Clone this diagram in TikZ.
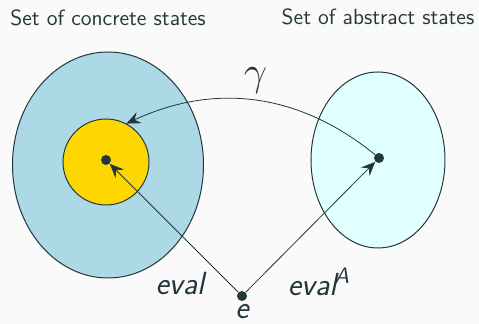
\documentclass[tikz,border=0pt]{standalone}
\usepackage{amsmath}
\usepackage{tikz}
\usetikzlibrary{shapes.geometric, arrows.meta, positioning}
\definecolor{mdark}{RGB}{35, 55, 59}
\definecolor{pagebg}{RGB}{250, 250, 250}
\definecolor{concretefill}{RGB}{173, 216, 230}
\definecolor{abstractfill}{RGB}{224, 255, 255}
\definecolor{imagefill}{RGB}{255, 215, 0}
\tikzset{
  font=\sffamily,
  setblob/.style={
    ellipse, draw=mdark, line width=0.5pt, inner sep=0pt
  },
  pointdot/.style={circle, fill=mdark, inner sep=0pt, minimum size=5pt},
  titlelabel/.style={text=mdark, font=\sffamily\fontsize{11}{13}\selectfont},
  maplabel/.style={text=mdark, font=\sffamily\fontsize{16}{19}\selectfont\itshape},
  flowline/.style={
    draw=mdark, -{Stealth[length=7pt, width=6pt, inset=2.5pt]}, line width=0.4pt
  }
}

\begin{document}
\begin{tikzpicture}[x=0.5pt, y=-0.5pt]

  \fill[pagebg] (0,0) rectangle (479,324);
  \useasboundingbox (0,0) rectangle (479,324);

  % Set of concrete states
  \node[setblob, fill=concretefill, minimum width=95.5pt, minimum height=113pt] (concrete) at (108,165) {};
  \node[titlelabel, above=9pt of concrete] (concretetitle) {Set of concrete states};
  \node[circle, draw=mdark, line width=0.5pt, fill=imagefill, inner sep=0pt, minimum size=43pt] (image) at (106,162) {};

  % Set of abstract states
  \node[setblob, fill=abstractfill, minimum width=67pt, minimum height=88pt] (abstract) at (378,160) {};
  \node[titlelabel, above=19.5pt of abstract] (abstracttitle) {Set of abstract states};

  % Points
  \node[pointdot] (cdot) at (106,160) {};
  \node[pointdot] (adot) at (379,158) {};
  \node[pointdot] (edot) at (242,296) {};
  \node[maplabel, below=-2pt of edot] (elabel) {e};

  \draw[flowline] (edot) -- (cdot);
  \draw[flowline] (edot) -- (adot);
  \draw[flowline] (adot) to[bend right=32] node[above=0pt, text=mdark, font=\fontsize{22}{26}\selectfont] (gammalabel) {$\gamma$} (image.62);

  \node[maplabel] (evallabel) at (180,284) {eval};
  \node[maplabel] (evalalabel) at (319,282) {eval\hspace{-1pt}$^{\text{\sffamily\itshape A}}$};

\end{tikzpicture}
\end{document}
